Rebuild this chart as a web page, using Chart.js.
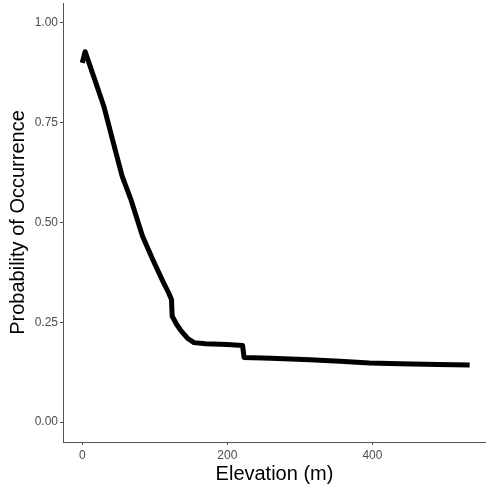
<!DOCTYPE html>
<html>
<head>
<meta charset="utf-8">
<script src="https://cdn.jsdelivr.net/npm/chart.js@4.4.0/dist/chart.umd.min.js"></script>
<style>
  html, body { margin: 0; padding: 0; background: #fff; }
  #wrap { width: 486px; height: 492px; }
</style>
</head>
<body>
<div id="wrap"><canvas id="myChart"></canvas></div>
<script>
// occurrence curve
const elevation = [0, 4, 15, 30, 45, 55, 67, 83, 97, 110, 119, 123, 124, 130, 136, 145, 154, 170, 200, 221, 223, 260, 314, 355, 396, 438, 490, 534];
const probability = [0.900, 0.928, 0.870, 0.790, 0.685, 0.616, 0.558, 0.466, 0.408, 0.357, 0.324, 0.307, 0.265, 0.245, 0.229, 0.210, 0.199, 0.196, 0.194, 0.192, 0.162, 0.160, 0.156, 0.1525, 0.148, 0.146, 0.144, 0.143];
const xTicks = [0, 200, 400];
const yTicks = [0, 0.25, 0.5, 0.75, 1];

const font = "'Liberation Sans', Arial, sans-serif";
const tickGray = '#4d4d4d';

const ctx = document.getElementById("myChart");
new Chart(ctx, {
  type: "line",
  data: {
    datasets: [
      {
        data: elevation.map((x, i) => ({ x: x, y: probability[i] })),
        borderColor: '#000',
        borderWidth: 5,
        pointRadius: 0,
        tension: 0,
        borderJoinStyle: 'round',
        borderCapStyle: 'butt'
      },
    ],
  },
  options: {
    responsive: true,
    maintainAspectRatio: false,
    animation: false,
    layout: { padding: { top: 3, right: 0, left: 0, bottom: 0 } },
    plugins: { legend: { display: false }, tooltip: { enabled: false } },
    scales: {
      x: {
        type: 'linear',
        min: -26.5,
        max: 556.5,
        afterBuildTicks: (s) => { s.ticks = xTicks.map(v => ({ value: v })); },
        afterFit: (s) => { s.height = 50; s.paddingLeft = 0; s.paddingRight = 0; },
        grid: { drawOnChartArea: false, drawTicks: true, tickLength: 3, color: tickGray },
        border: { display: true, color: '#555', width: 1 },
        ticks: { color: tickGray, padding: 3, font: { family: font, size: 12 }, maxRotation: 0 },
        title: { display: true, text: 'Elevation (m)', color: '#000', font: { family: font, size: 20 }, padding: { top: 0, bottom: 5.5 } }
      },
      y: {
        min: -0.05,
        max: 1.05,
        afterBuildTicks: (s) => { s.ticks = yTicks.map(v => ({ value: v })); },
        afterFit: (s) => { s.width = 63; s.paddingTop = 0; s.paddingBottom = 0; },
        grid: { drawOnChartArea: false, drawTicks: true, tickLength: 3, color: tickGray },
        border: { display: true, color: '#555', width: 1 },
        ticks: { color: tickGray, padding: 2, font: { family: font, size: 12 }, callback: (v) => v.toFixed(2) },
        title: { display: true, text: 'Probability of Occurrence', color: '#000', font: { family: font, size: 20 }, padding: { top: 6.5, bottom: 0 } }
      },
    },
  },
});
</script>
</body>
</html>
